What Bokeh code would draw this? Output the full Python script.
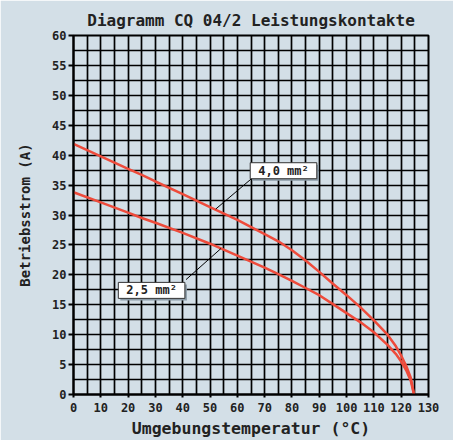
from bokeh.plotting import figure
from bokeh.models import SingleIntervalTicker, FixedTicker, Label, Range1d
from bokeh.embed import file_html
from bokeh.resources import INLINE

temp = [0, 10, 20, 25, 30, 40, 50, 60, 70, 75, 80, 85, 90, 95, 100, 105, 110, 115, 118, 120, 122, 123.5, 124.7]
i_40 = [41.9, 39.8, 37.7, 36.7, 35.6, 33.5, 31.3, 29.2, 26.8, 25.6, 24.1, 22.4, 20.5, 18.5, 16.6, 14.6, 12.4, 10.0, 8.1, 6.5, 4.6, 2.8, 0.0]
i_25 = [33.8, 32.1, 30.4, 29.5, 28.7, 27.0, 25.2, 23.2, 21.2, 20.1, 19.0, 17.8, 16.6, 15.1, 13.6, 12.1, 10.4, 8.3, 6.8, 5.5, 3.9, 2.3, 0.0]

x_ticks = list(range(0, 131, 10))
y_ticks = list(range(0, 61, 5))

BG = "#d3dfe7"
RED = "#ee4b3b"
FONT = "DejaVu Sans Mono"
TXT = "#222222"

p = figure(width=453, height=440, output_backend="svg", toolbar_location=None,
           x_range=Range1d(0, 130), y_range=Range1d(0, 60),
           min_border_left=73, min_border_right=25, min_border_top=35, min_border_bottom=40)
p.background_fill_color = BG
p.border_fill_color = BG
p.outline_line_color = "black"
p.outline_line_width = 2

p.title.text = "Diagramm CQ 04/2 Leistungskontakte"
p.title.align = "center"
p.title.text_font = FONT
p.title.text_font_size = "16px"
p.title.text_font_style = "bold"
p.title.text_color = TXT
p.title.text_line_height = 0.9
p.title.standoff = 11

p.xgrid.ticker = SingleIntervalTicker(interval=5)
p.ygrid.ticker = SingleIntervalTicker(interval=2.5)
for g in (p.xgrid, p.ygrid):
    g.grid_line_color = "black"
    g.grid_line_width = 1.7
    g.grid_line_alpha = 1.0

p.xaxis.ticker = FixedTicker(ticks=x_ticks)
p.yaxis.ticker = FixedTicker(ticks=y_ticks)
for ax in (p.xaxis, p.yaxis):
    ax.axis_line_color = "black"
    ax.axis_line_width = 2
    ax.major_tick_line_color = "black"
    ax.major_tick_line_width = 2
    ax.major_tick_in = 0
    ax.minor_tick_line_color = None
    ax.major_label_text_font = FONT
    ax.major_label_text_font_style = "bold"
    ax.major_label_text_font_size = "12px"
    ax.major_label_text_color = TXT
    ax.axis_label_text_font = FONT
    ax.axis_label_text_font_style = "bold"
    ax.axis_label_text_color = TXT
p.xaxis.major_tick_out = 3
p.yaxis.major_tick_out = 5
p.xaxis.major_label_standoff = 5
p.yaxis.major_label_standoff = 2
p.xaxis.axis_label = "Umgebungstemperatur (°C)"
p.xaxis.axis_label_text_font_size = "16.5px"
p.xaxis.axis_label_standoff = 4
p.yaxis.axis_label = "Betriebsstrom (A)"
p.yaxis.axis_label_text_font_size = "14px"
p.yaxis.axis_label_standoff = 16

p.line(temp, i_40, line_color=RED, line_width=2.5)
p.line(temp, i_25, line_color=RED, line_width=2.5)

# leader lines
p.line([52.1, 65.0], [31.0, 36.0], line_color="black", line_width=1)
p.line([41.2, 54.0], [19.2, 24.4], line_color="black", line_width=1)

PAD = dict(left=8, right=8, top=1, bottom=1)

def box_label(x, y, text):
    shadow = Label(x=x, y=y, text=text, text_font=FONT, text_font_style="bold",
                   text_font_size="12px", text_color="rgba(0,0,0,0)",
                   x_offset=2, y_offset=-2, padding=PAD,
                   background_fill_color="#8a9aa6", border_line_color=None,
                   text_baseline="middle", text_align="center")
    lab = Label(x=x, y=y, text=text, text_font=FONT, text_font_style="bold",
                text_font_size="12px", text_color=TXT, padding=PAD,
                background_fill_color="white", border_line_color="#333333",
                border_line_width=1, text_baseline="middle", text_align="center")
    p.add_layout(shadow)
    p.add_layout(lab)

box_label(76.9, 37.4, "4,0 mm²")
box_label(28.6, 17.4, "2,5 mm²")

open("out.html", "w").write(file_html(p, INLINE))
